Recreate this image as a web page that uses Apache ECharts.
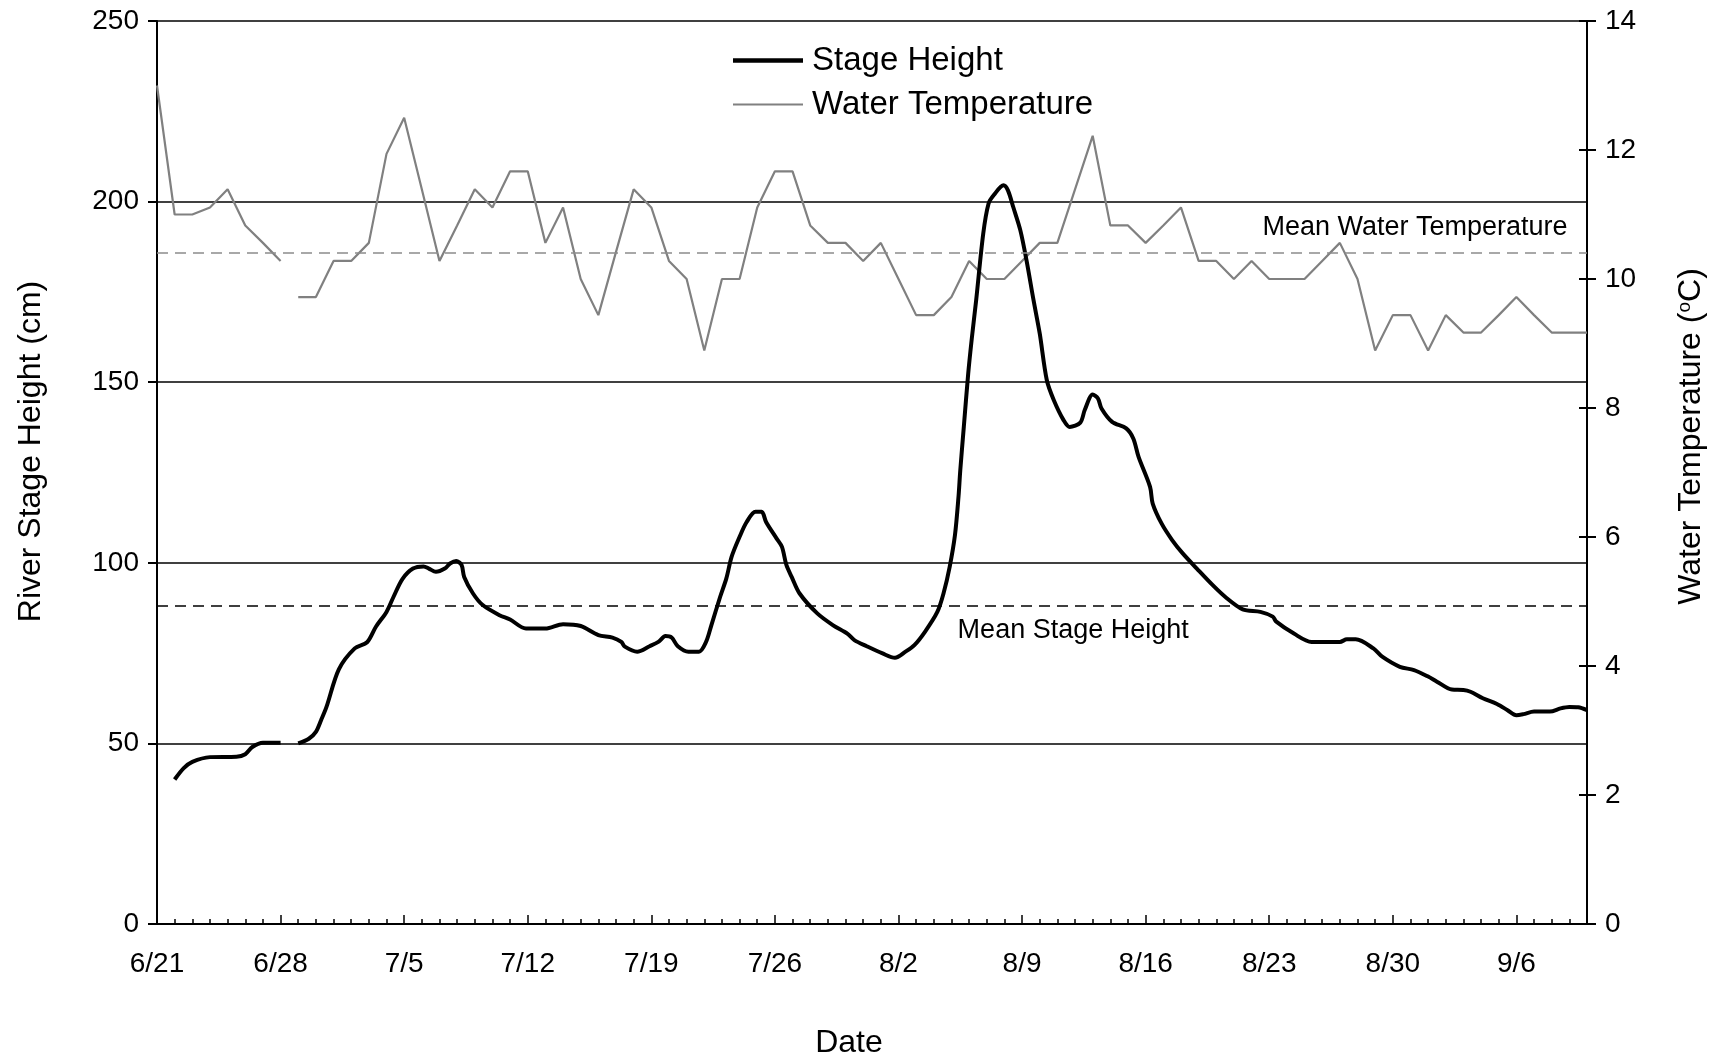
<!DOCTYPE html>
<html>
<head>
<meta charset="utf-8">
<title>River Stage Height and Water Temperature</title>
<script src="https://cdn.jsdelivr.net/npm/echarts@6/dist/echarts.min.js"></script>
<style>
  html, body { margin: 0; padding: 0; background: #fff; }
  #main { width: 1722px; height: 1061px; }
</style>
</head>
<body>
<div id="main"></div>
<script>
// weekly tick labels, one per 7 days starting 6/21
var dateLabels = ['6/21', '6/28', '7/5', '7/12', '7/19', '7/26', '8/2', '8/9', '8/16', '8/23', '8/30', '9/6'];

// stage height (cm); day = days after 6/21, null = gap in record
var stageDay = [1, 1.5, 2, 3, 4.5, 5, 5.4, 6, 7, 7.5,
  8, 8.6, 9, 9.3, 9.6, 10.3, 11.2, 11.9, 12.4, 13,
  13.4, 13.9, 14.5, 15.1, 15.4, 15.8, 16.3, 16.6, 16.95, 17.25,
  17.4, 17.9, 18.45, 19.4, 20, 20.9, 22, 23, 24, 25,
  25.8, 26.3, 26.5, 27.2, 27.9, 28.4, 28.8, 29.15, 29.5, 30.1,
  30.7, 31.1, 31.4, 31.9, 32.25, 32.55, 33, 33.4, 33.9, 34.25,
  34.5, 35.1, 35.4, 35.65, 35.95, 36.4, 37.4, 38.3, 39.1, 39.5,
  40.2, 41.1, 41.8, 42.4, 42.9, 43.5, 44.2, 44.55, 44.9, 45.2,
  45.4, 45.5, 45.7, 45.95, 46.15, 46.4, 46.8, 47.1, 47.4, 47.95,
  48.2, 48.5, 48.9, 49.25, 49.65, 50, 50.4, 50.8, 51.35, 51.7,
  52.3, 52.55, 53, 53.3, 53.5, 54.1, 54.9, 55.3, 55.6, 56.25,
  56.4, 56.9, 57.5, 58.1, 58.9, 59.8, 60.5, 61.5, 62.5, 63.2,
  63.4, 64.4, 65.4, 67, 67.4, 67.9, 68.9, 69.4, 70.4, 71.2,
  72, 72.5, 73.35, 74, 74.4, 75.1, 75.9, 76.5, 77, 77.4,
  78, 78.9, 79.5, 80, 80.5, 81];
var stageCm = [40.0, 43.1, 44.9, 46.2, 46.3, 47.0, 49.0, 50.2, 50.2, null,
  50.0, 51.3, 53.2, 56.5, 60.1, 70.5, 76.3, 78.0, 82.3, 86.4,
  90.6, 95.5, 98.4, 99.0, 98.4, 97.5, 98.4, 99.8, 100.5, 99.4,
  96.1, 91.5, 88.3, 85.5, 84.3, 81.8, 81.8, 83.0, 82.5, 80.0,
  79.3, 78.1, 76.8, 75.4, 76.9, 78.1, 79.7, 79.3, 76.9, 75.4,
  75.4, 78.1, 82.7, 90.6, 95.7, 101.7, 107.2, 111.3, 114.1, 114.1,
  111.3, 106.7, 104.4, 99.4, 96.1, 91.5, 86.0, 82.7, 80.4, 78.6,
  76.9, 74.9, 73.7, 75.4, 77.2, 80.9, 86.4, 91.5, 98.9, 107.7,
  118.3, 125.6, 137.6, 152.4, 162.0, 172.7, 191.1, 199.4, 201.8, 204.5,
  203.1, 198.5, 192.1, 183.8, 172.7, 163.5, 150.6, 145.0, 139.5, 137.6,
  138.8, 142.3, 146.6, 145.5, 142.7, 139.0, 137.2, 134.4, 129.3, 121.0,
  116.4, 110.9, 106.3, 102.6, 98.4, 93.8, 90.6, 87.1, 86.4, 85.1,
  83.7, 80.4, 78.1, 78.1, 78.8, 78.8, 76.3, 74.0, 71.2, 70.3,
  68.5, 67.1, 64.9, 64.8, 64.3, 62.5, 60.9, 59.2, 57.8, 58.1,
  58.8, 58.8, 59.7, 60.1, 60.0, 59.2];

// daily water temperature (deg C), index = days after 6/21
var tempC = [13.0, 11.0, 11.0, 11.11, 11.39, 10.83, 10.56, 10.28, 9.72, 9.72,
  10.28, 10.28, 10.56, 11.94, 12.5, 11.39, 10.28, 10.83, 11.39, 11.11,
  11.67, 11.67, 10.56, 11.11, 10.0, 9.44, 10.42, 11.39, 11.11, 10.28,
  10.0, 8.89, 10.0, 10.0, 11.11, 11.67, 11.67, 10.83, 10.56, 10.56,
  10.28, 10.56, 10.0, 9.44, 9.44, 9.72, 10.28, 10.0, 10.0, 10.28,
  10.56, 10.56, 11.39, 12.22, 10.83, 10.83, 10.56, 10.83, 11.11, 10.28,
  10.28, 10.0, 10.28, 10.0, 10.0, 10.0, 10.28, 10.56, 10.0, 8.89,
  9.44, 9.44, 8.89, 9.44, 9.17, 9.17, 9.44, 9.72, 9.44, 9.17,
  9.17, 9.17];
var tempGapDay = 7.5; // no reading between 6/28 and 6/29

var meanStage = 88;
var meanTemp = 10.4;

var FONT = "'Liberation Sans', Arial, sans-serif";

var stageData = [];
for (var i = 0; i < stageDay.length; i++) {
  stageData.push([stageDay[i], stageCm[i]]);
}
var tempData = [];
for (var j = 0; j < tempC.length; j++) {
  tempData.push([j, tempC[j]]);
  if (j + 0.5 === tempGapDay) tempData.push([tempGapDay, null]);
}

var myChart = echarts.init(document.getElementById('main'));

var tickStyle = { color: '#000', width: 2 };

var option = {
  animation: false,
  backgroundColor: '#fff',
  textStyle: { fontFamily: FONT, color: '#000' },
  grid: { left: 157, right: 135, top: 21, bottom: 137, outerBoundsMode: 'none' },
  legend: {
    orient: 'vertical',
    left: 733,
    top: 44,
    padding: 0,
    itemWidth: 70,
    itemHeight: 14,
    itemGap: 11,
    selectedMode: false,
    textStyle: { fontSize: 33, color: '#000', fontFamily: FONT, padding: [0, 0, 0, 4] },
    data: [
      { name: 'Stage Height', icon: 'path://M0,0H70V4.5H0Z' },
      { name: 'Water Temperature', icon: 'path://M0,0H70V2.2H0Z' }
    ]
  },
  xAxis: [{
    type: 'value',
    min: 0,
    max: 81,
    interval: 1,
    axisLine: { onZero: false, lineStyle: { color: '#000', width: 2 } },
    axisTick: { show: true, inside: true, length: 5, lineStyle: { color: '#000', width: 1.5 } },
    axisLabel: {
      fontSize: 28, color: '#000', margin: 26, fontFamily: FONT,
      formatter: function (v) { return v % 7 === 0 ? dateLabels[v / 7] : ''; }
    },
    splitLine: { show: false },
    name: 'Date',
    nameLocation: 'middle',
    nameGap: 103,
    nameTextStyle: { fontSize: 32, color: '#000', fontFamily: FONT, padding: [0, 46, 0, 0] }
  }, {
    type: 'value',
    min: 0,
    max: 81,
    interval: 7,
    position: 'bottom',
    axisLine: { show: false, onZero: false },
    axisTick: { show: true, inside: true, length: 9, lineStyle: { color: '#000', width: 1.5 } },
    axisLabel: { show: false },
    splitLine: { show: false }
  }],
  yAxis: [{
    type: 'value',
    position: 'left',
    min: 0,
    max: 250,
    interval: 50,
    axisLine: { show: true, onZero: false, lineStyle: { color: '#000', width: 2 } },
    axisTick: { show: true, length: 9, lineStyle: tickStyle },
    axisLabel: { fontSize: 28, color: '#000', margin: 18, fontFamily: FONT },
    splitLine: { show: true, lineStyle: { color: '#000', width: 1.7 } },
    name: 'River Stage Height (cm)',
    nameLocation: 'middle',
    nameRotate: 90,
    nameGap: 110,
    nameTextStyle: { fontSize: 32, color: '#000', fontFamily: FONT, padding: [0, 0, 0, 42] }
  }, {
    type: 'value',
    position: 'right',
    min: 0,
    max: 14,
    interval: 2,
    axisLine: { show: true, onZero: false, lineStyle: { color: '#000', width: 2 } },
    axisTick: { show: true, length: 9, lineStyle: tickStyle },
    axisLabel: { fontSize: 28, color: '#000', margin: 18, fontFamily: FONT },
    splitLine: { show: false },
    name: '{n|Water Temperature (}{s|o}{n|C)}',
    nameLocation: 'middle',
    nameRotate: 90,
    nameGap: 88,
    nameTextStyle: {
      color: '#000', fontFamily: FONT, padding: [0, 0, 0, 72],
      rich: {
        n: { fontSize: 32, color: '#000', fontFamily: FONT },
        s: { fontSize: 19, color: '#000', fontFamily: FONT, padding: [0, 0, 14, 0] }
      }
    }
  }, {
    // inner half of the crossing ticks on the temperature axis
    type: 'value',
    position: 'right',
    min: 0,
    max: 14,
    interval: 2,
    axisLine: { show: false, onZero: false },
    axisTick: { show: true, inside: true, length: 8, lineStyle: tickStyle },
    axisLabel: { show: false },
    splitLine: { show: false }
  }],
  series: [{
    name: 'Stage Height',
    type: 'line',
    xAxisIndex: 0,
    yAxisIndex: 0,
    data: stageData,
    symbol: 'none',
    smooth: 0.3,
    z: 3,
    lineStyle: { color: '#000', width: 4 },
    itemStyle: { color: '#000' },
    markLine: {
      silent: true,
      symbol: ['none', 'none'],
      label: { show: false },
      lineStyle: { color: '#000', type: [11, 7], width: 1.5 },
      data: [{ yAxis: meanStage }]
    },
    markPoint: {
      silent: true,
      symbol: 'circle',
      symbolSize: 1,
      itemStyle: { color: 'rgba(0,0,0,0)' },
      label: {
        show: true, position: 'inside', align: 'left', offset: [0, 24],
        formatter: 'Mean Stage Height', fontSize: 27, color: '#000', fontFamily: FONT
      },
      data: [{ coord: [45.35, meanStage] }]
    }
  }, {
    name: 'Water Temperature',
    type: 'line',
    xAxisIndex: 0,
    yAxisIndex: 1,
    data: tempData,
    symbol: 'none',
    z: 2,
    lineStyle: { color: '#808080', width: 2.2 },
    itemStyle: { color: '#808080' },
    markLine: {
      silent: true,
      symbol: ['none', 'none'],
      label: { show: false },
      lineStyle: { color: '#8c8c8c', type: [11, 7], width: 1.5 },
      data: [{ yAxis: meanTemp }]
    },
    markPoint: {
      silent: true,
      symbol: 'circle',
      symbolSize: 1,
      itemStyle: { color: 'rgba(0,0,0,0)' },
      label: {
        show: true, position: 'inside', align: 'right', offset: [0, -26],
        formatter: 'Mean Water Temperature', fontSize: 27, color: '#000', fontFamily: FONT
      },
      data: [{ coord: [79.9, meanTemp] }]
    }
  }]
};

myChart.setOption(option);
</script>
</body>
</html>
